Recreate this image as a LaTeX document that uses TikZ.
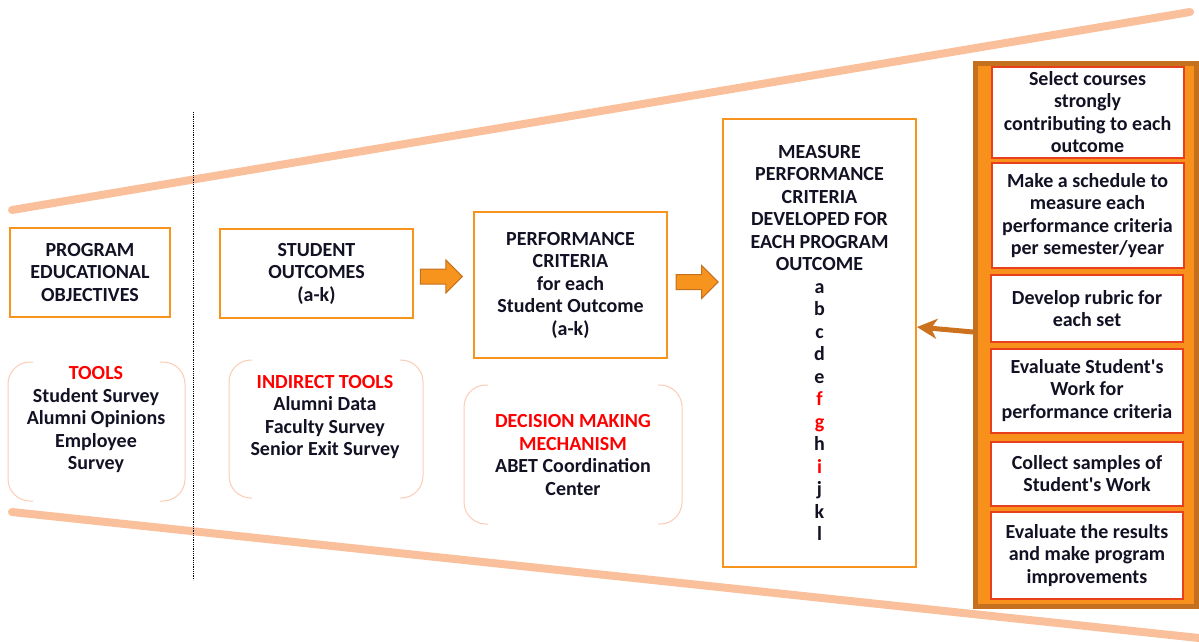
\documentclass[tikz,border=0pt]{standalone}
\usepackage{fontspec}
\setmainfont{Carlito}
\usetikzlibrary{arrows.meta,shapes.arrows,calc}

\definecolor{boxorange}{RGB}{247,148,30}
\definecolor{funnel}{RGB}{250,192,155}
\definecolor{bracketc}{RGB}{250,205,180}
\definecolor{panelfill}{RGB}{247,145,28}
\definecolor{paneldraw}{RGB}{196,112,30}
\definecolor{steporange}{RGB}{232,64,28}
\definecolor{backarrow}{RGB}{204,114,30}
\definecolor{inkc}{RGB}{18,18,36}

\tikzset{
  every node/.style={font=\bfseries\fontsize{20}{22.5}\selectfont, text=inkc, align=center},
  mainbox/.style={draw=boxorange, line width=2, fill=white, inner sep=0},
  stepbox/.style={draw=steporange, line width=2, fill=white, inner sep=0,
    minimum width=192},
  bracket/.style={draw=bracketc, line width=1, rounded corners=22},
  blockarrow/.style={single arrow, fill=boxorange, draw=paneldraw, line width=1,
    minimum height=42, inner sep=7, single arrow head extend=9},
  hot/.style={text=red}
}

\begin{document}
\begin{tikzpicture}[x=1pt,y=-1pt]
  \useasboundingbox (0,0) rectangle (1199,641);
  % funnel
  \draw [funnel, line width=8, line cap=round] (12,210) -- (1190,12);
  \draw [funnel, line width=8, line cap=round] (12,512) -- (1199,638);
  \draw [densely dotted, line width=0.8] (193,112) -- (193,580);

  % objectives
  \node [mainbox, minimum width=160, minimum height=89] (peo) at (90,272.5)
    {PROGRAM\\EDUCATIONAL\\OBJECTIVES};
  \draw [bracket] (33,362) -- (8,362) -- (8,501) -- (33,501);
  \draw [bracket] (160,362) -- (185,362) -- (185,501) -- (160,501);
  \node (tools) at (96,420)
    {\textcolor{red}{TOOLS}\\Student Survey\\Alumni Opinions\\Employee\\Survey};

  % outcomes
  \node [mainbox, minimum width=193, minimum height=89] (so) at (316.5,273.5)
    {STUDENT\\OUTCOMES\\(a-k)};
  \draw [bracket] (252,360) -- (229,360) -- (229,498) -- (252,498);
  \draw [bracket] (400,360) -- (423,360) -- (423,498) -- (400,498);
  \node (indirect) at (325,417)
    {\textcolor{red}{INDIRECT TOOLS}\\Alumni Data\\Faculty Survey\\Senior Exit Survey};

  % criteria
  \node [mainbox, minimum width=193, minimum height=146] (pc) at (570.5,285)
    {PERFORMANCE\\CRITERIA\\for each\\Student Outcome\\(a-k)};
  \draw [bracket] (488,385) -- (464,385) -- (464,524) -- (488,524);
  \draw [bracket] (658,385) -- (682,385) -- (682,524) -- (658,524);
  \node (dmm) at (573,455)
    {\textcolor{red}{DECISION MAKING}\\\textcolor{red}{MECHANISM}\\ABET Coordination\\Center};

  % measure
  \node [mainbox, minimum width=193, minimum height=448] (mpc) at (819.5,343)
    {MEASURE\\PERFORMANCE\\CRITERIA\\DEVELOPED FOR\\EACH PROGRAM\\OUTCOME\\a\\b\\c\\d\\e\\
     \textcolor{red}{f}\\\textcolor{red}{g}\\h\\\textcolor{red}{i}\\j\\k\\l};

  \node [blockarrow] (arr1) at ($(so.east)!0.4!(so.east -| pc.west)+(0,3)$) {};
  \node [blockarrow] (arr2) at ($(pc.east)!0.47!(pc.east -| mpc.west)+(0,-3)$) {};

  % steps
  \node [draw=paneldraw, fill=panelfill, line width=5, minimum width=221,
    minimum height=543, inner sep=0] (panel) at (1086,334.5) {};
  \node [stepbox, minimum height=91] (s1) at (1087.5,112)
    {Select courses\\strongly\\contributing to each\\outcome};
  \node [stepbox, minimum height=105] (s2) at (1087.5,215.5)
    {Make a schedule to\\measure each\\performance criteria\\per semester/year};
  \node [stepbox, minimum height=67] (s3) at (1087,308.5)
    {Develop rubric for\\each set};
  \node [stepbox, minimum height=84] (s4) at (1087,390.5)
    {Evaluate Student\textquotesingle s\\Work for\\performance criteria};
  \node [stepbox, minimum height=64] (s5) at (1087,473.5)
    {Collect samples of\\Student\textquotesingle s Work};
  \node [stepbox, minimum height=87] (s6) at (1087,555.5)
    {Evaluate the results\\and make program\\improvements};

  \draw [-{Stealth[length=20, width=20, inset=6]}, backarrow, line width=5]
    ([yshift=2.5]panel.west) -- ([yshift=16]mpc.east);
\end{tikzpicture}
\end{document}
